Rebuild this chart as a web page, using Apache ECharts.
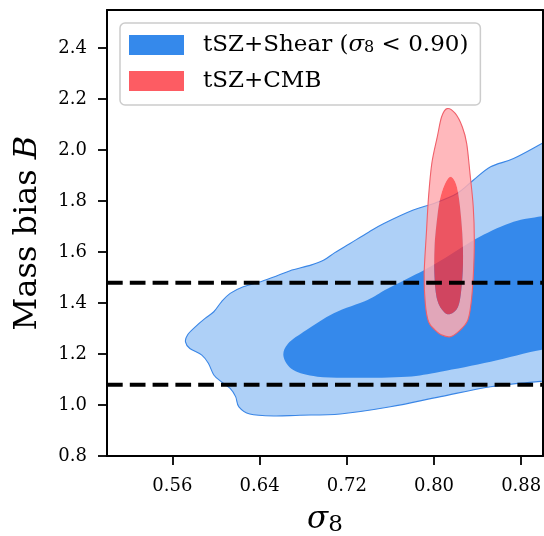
<!DOCTYPE html>
<html>
<head>
<meta charset="utf-8">
<script src="https://cdn.jsdelivr.net/npm/echarts@6/dist/echarts.min.js"></script>
<style>
  html, body { margin: 0; padding: 0; background: #fff; }
  #main { width: 544px; height: 536px; }
</style>
</head>
<body>
<div id="main"></div>
<script>
var chart = echarts.init(document.getElementById('main'));

// axis ticks
var xTicks = [0.56, 0.64, 0.72, 0.80, 0.88];
var yTicks = [0.8, 1.0, 1.2, 1.4, 1.6, 1.8, 2.0, 2.2, 2.4];
// dashed reference levels of B
var biasLevels = [1.08, 1.48];

// contour outlines [sigma8, B]
var shearOuter = [[0.572,1.248],[0.574,1.276],[0.581,1.307],[0.590,1.340],[0.598,1.366],[0.605,1.405],
  [0.613,1.438],[0.625,1.464],[0.641,1.484],[0.655,1.505],[0.668,1.527],[0.687,1.549],[0.699,1.569],
  [0.709,1.598],[0.723,1.634],[0.740,1.678],[0.754,1.712],[0.781,1.765],[0.800,1.791],[0.821,1.830],
  [0.836,1.882],[0.852,1.935],[0.873,1.967],[0.899,2.026],[0.93,2.10],[0.93,1.10],[0.898,1.093],
  [0.852,1.072],[0.806,1.033],[0.760,0.993],[0.714,0.965],[0.677,0.960],[0.653,0.957],[0.631,0.965],
  [0.621,0.993],[0.618,1.033],[0.613,1.065],[0.605,1.091],[0.598,1.118],[0.593,1.164],[0.587,1.196],
  [0.576,1.222]];
var shearInner = [[0.662,1.189],[0.666,1.240],[0.683,1.294],[0.708,1.360],[0.739,1.412],[0.755,1.451],
  [0.774,1.493],[0.792,1.532],[0.812,1.582],[0.842,1.660],[0.873,1.719],[0.899,1.741],[0.93,1.76],
  [0.93,1.225],[0.898,1.216],[0.852,1.170],[0.806,1.131],[0.775,1.111],[0.729,1.107],[0.693,1.111],
  [0.671,1.137]];
var cmbOuter = [[0.812,2.163],[0.8195,2.144],[0.826,2.091],[0.830,2.026],[0.833,1.909],[0.836,1.778],
  [0.837,1.647],[0.836,1.503],[0.834,1.399],[0.831,1.333],[0.824,1.294],[0.815,1.268],[0.807,1.275],
  [0.801,1.294],[0.795,1.327],[0.792,1.399],[0.791,1.516],[0.793,1.673],[0.795,1.817],[0.798,1.948],
  [0.803,2.052],[0.807,2.131]];
var cmbInner = [[0.816,1.895],[0.8205,1.863],[0.8235,1.791],[0.826,1.673],[0.8266,1.556],[0.825,1.451],
  [0.822,1.385],[0.815,1.357],[0.809,1.366],[0.803,1.412],[0.8005,1.503],[0.8005,1.621],[0.803,1.738],
  [0.806,1.817],[0.811,1.876]];

var shearName = 'tSZ+Shear (σ8 < 0.90)';
var cmbName = 'tSZ+CMB';
var serif = 'DejaVu Serif';
var xMin = 0.5, xMax = 0.9;

// closed catmull-rom curve through screen points
function smoothRing(pts) {
  var n = pts.length;
  var d = 'M' + pts[0][0].toFixed(2) + ' ' + pts[0][1].toFixed(2);
  for (var i = 0; i < n; i++) {
    var p0 = pts[(i - 1 + n) % n], p1 = pts[i], p2 = pts[(i + 1) % n], p3 = pts[(i + 2) % n];
    d += ' C' + (p1[0] + (p2[0] - p0[0]) / 6).toFixed(2) + ' ' + (p1[1] + (p2[1] - p0[1]) / 6).toFixed(2)
      + ' ' + (p2[0] - (p3[0] - p1[0]) / 6).toFixed(2) + ' ' + (p2[1] - (p3[1] - p1[1]) / 6).toFixed(2)
      + ' ' + p2[0].toFixed(2) + ' ' + p2[1].toFixed(2);
  }
  return d + ' Z';
}

// fill = ring minus optional hole; stroke drawn only on the outer ring
function contour(ring, hole, fill, stroke) {
  return function (params, api) {
    if (params.dataIndex !== 0) return null;
    var outer = ring.map(function (p) { return api.coord(p); });
    var d = smoothRing(outer);
    if (hole) {
      var inner = hole.map(function (p) { return api.coord(p); }).reverse();
      d += ' ' + smoothRing(inner);
    }
    var children = [{ type: 'path', shape: { pathData: d }, style: { fill: fill, stroke: null } }];
    if (stroke) {
      children.push({ type: 'path', shape: { pathData: smoothRing(outer) },
        style: { fill: null, stroke: stroke, lineWidth: 1.1 } });
    }
    return { type: 'group', children: children };
  };
}

function contourSeries(name, ring, hole, fill, stroke, z) {
  return {
    name: name, type: 'custom', clip: true, z: z, silent: true,
    renderItem: contour(ring, hole, fill, stroke),
    data: ring
  };
}

var series = [
  contourSeries(shearName, shearOuter, null, '#aed0f7', '#3a86e6', 2),
  contourSeries(shearName, shearInner, null, '#3589eb', null, 3),
  contourSeries(cmbName, cmbOuter, cmbInner, 'rgba(255,172,176,0.85)', '#f0606a', 4),
  contourSeries(cmbName, cmbInner, null, 'rgba(255,48,53,0.77)', null, 5)
];
biasLevels.forEach(function (b) {
  series.push({
    type: 'line', z: 6, silent: true, symbol: 'none',
    data: [[xMin, b], [xMax, b]],
    lineStyle: { color: '#000', width: 4, type: [15.7, 7.1] }
  });
});

var tickLabel = { color: '#000', fontFamily: serif, fontSize: 18 };

var option = {
  animation: false,
  grid: { left: 107, right: 1, top: 10, bottom: 80, outerBoundsMode: 'none', containLabel: false },
  legend: {
    orient: 'vertical', left: 120, top: 23,
    padding: [10, 12, 12, 9], itemGap: 12, itemWidth: 55, itemHeight: 20, icon: 'rect',
    backgroundColor: '#fff', borderColor: '#cccccc', borderWidth: 1.5, borderRadius: 5,
    selectedMode: false,
    data: [
      { name: shearName, itemStyle: { color: '#3589eb' } },
      { name: cmbName, itemStyle: { color: '#fd5c63' } }
    ],
    formatter: function (name) {
      if (name === shearName) return '{g|}{n|tSZ+Shear (}{i|σ}{sub|8}{n| < 0.90)}';
      return '{g|}{n|tSZ+CMB}';
    },
    textStyle: {
      color: '#000', fontFamily: serif, fontSize: 23, lineHeight: 24,
      rich: {
        g: { width: 14 },
        n: { color: '#000', fontFamily: serif, fontSize: 23 },
        i: { color: '#000', fontFamily: serif, fontSize: 23, fontStyle: 'italic' },
        sub: { color: '#000', fontFamily: serif, fontSize: 16, padding: [6, 0, 0, 0] }
      }
    }
  },
  xAxis: [{
    type: 'value', min: xMin, max: xMax, z: 10,
    name: '{s|σ}{sub|8}', nameLocation: 'middle', nameGap: 46,
    nameTextStyle: {
      rich: {
        s: { color: '#000', fontFamily: serif, fontSize: 31, fontStyle: 'italic' },
        sub: { color: '#000', fontFamily: serif, fontSize: 23, padding: [12, 0, 0, 0] }
      }
    },
    axisLine: { onZero: false, lineStyle: { color: '#000', width: 2 } },
    axisTick: { customValues: xTicks, length: 9, lineStyle: { color: '#000', width: 1.8 } },
    axisLabel: Object.assign({ customValues: xTicks, margin: 21,
      formatter: function (v) { return v.toFixed(2); } }, tickLabel),
    splitLine: { show: false }
  }, {
    type: 'value', min: xMin, max: xMax, position: 'top', z: 10,
    axisLine: { onZero: false, lineStyle: { color: '#000', width: 2 } },
    axisTick: { show: false }, axisLabel: { show: false }, splitLine: { show: false }
  }],
  yAxis: [{
    type: 'value', min: 0.8, max: 2.55, z: 10,
    name: '{a|Mass bias }{b|B}', nameLocation: 'middle', nameRotate: 90, nameGap: 63,
    nameTextStyle: {
      rich: {
        a: { color: '#000', fontFamily: serif, fontSize: 32 },
        b: { color: '#000', fontFamily: serif, fontSize: 32, fontStyle: 'italic' }
      }
    },
    axisLine: { onZero: false, lineStyle: { color: '#000', width: 2 } },
    axisTick: { customValues: yTicks, length: 9, lineStyle: { color: '#000', width: 1.8 } },
    axisLabel: Object.assign({ customValues: yTicks, margin: 20,
      formatter: function (v) { return v.toFixed(1); } }, tickLabel),
    splitLine: { show: false }
  }, {
    type: 'value', min: 0.8, max: 2.55, position: 'right', z: 10,
    axisLine: { onZero: false, lineStyle: { color: '#000', width: 2 } },
    axisTick: { show: false }, axisLabel: { show: false }, splitLine: { show: false }
  }],
  series: series
};

chart.setOption(option);
</script>
</body>
</html>
